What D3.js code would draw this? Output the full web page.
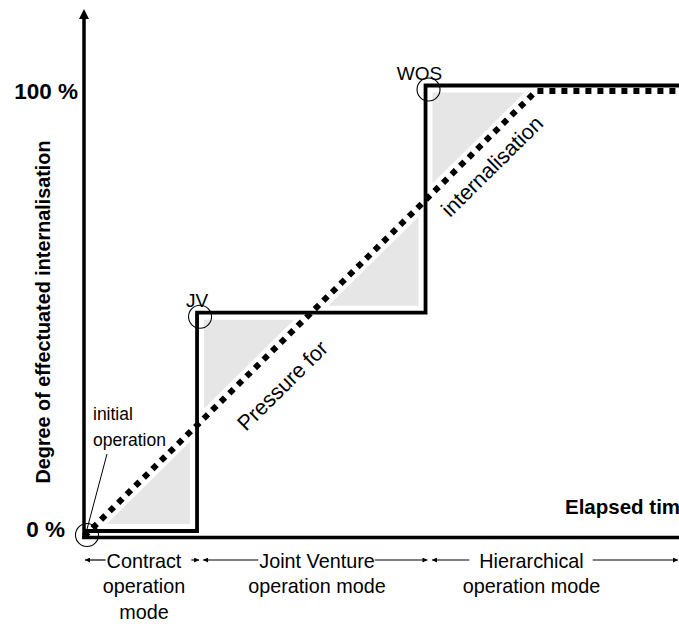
<!DOCTYPE html>
<html>
<head>
<meta charset="utf-8">
<script src="https://cdn.jsdelivr.net/npm/d3@7"></script>
<style>
  html, body { margin: 0; padding: 0; background: #fff; }
  svg { display: block; }
  text { font-family: "Liberation Sans", Arial, Helvetica, sans-serif; fill: #000; }
</style>
</head>
<body>
<svg id="chart" width="679" height="626"></svg>
<script>
// ---------------- data ----------------
const modes = ["Contract", "Joint Venture", "Hierarchical"];
const modeSub = [["operation", "mode"], ["operation mode"], ["operation mode"]];
const modeStart = [0, 1.9, 5.74];   // elapsed time where each mode starts
const modeEnd = [1.9, 5.74, 10];
const stepTime = [0, 1.9, 1.9, 5.74, 5.74, 10];      // effectuated internalisation (step)
const stepValue = [0, 0, 49, 49, 100, 100];
const pressureTime = [0, 7.6, 10];                    // pressure for internalisation
const pressureValue = [0, 100, 100];
const milestoneNames = ["", "JV", "WOS"];
const milestoneTime = [0, 1.9, 5.74];
const milestoneValue = [0, 49, 100];
const yTickValues = [0, 100];
const yTickLabels = ["0 %", "100 %"];

// ---------------- layout ----------------
const svg = d3.select("#chart");
const x = d3.scaleLinear().domain([0, 10]).range([84, 679]);
const y = d3.scaleLinear().domain([0, 100]).range([531, 85.5]);
const axisY = 537.5;
const pOff = 5.5; // pressure line drawn just below the step level

// shaded triangles between step and pressure line
function lineInter(p1, d1, p2, d2) {
  const den = d1[0] * d2[1] - d1[1] * d2[0];
  const t = ((p2[0] - p1[0]) * d2[1] - (p2[1] - p1[1]) * d2[0]) / den;
  return [p1[0] + t * d1[0], p1[1] + t * d1[1]];
}
const dP = [x(pressureTime[1]) - x(pressureTime[0]), y(pressureValue[1]) - y(pressureValue[0])];
const pP = [x(pressureTime[0]), y(pressureValue[0]) + pOff];
const H = v => [[0, y(v)], [1, 0]];
const V = t => [[x(t), 0], [0, 1]];
const D = [pP, dP];
function tri(a, b) {
  const v1 = lineInter(a[0], a[1], b[0], b[1]);
  const v2 = lineInter(a[0], a[1], D[0], D[1]);
  const v3 = lineInter(b[0], b[1], D[0], D[1]);
  return inset([v1, v2, v3], 7);
}
function inset(pts, d) {
  const [A, B, C] = pts;
  const dist = (p, q) => Math.hypot(p[0] - q[0], p[1] - q[1]);
  const a = dist(B, C), b = dist(A, C), c = dist(A, B);
  const s = a + b + c;
  const I = [(a * A[0] + b * B[0] + c * C[0]) / s, (a * A[1] + b * B[1] + c * C[1]) / s];
  const area = Math.abs((B[0] - A[0]) * (C[1] - A[1]) - (C[0] - A[0]) * (B[1] - A[1])) / 2;
  const r = 2 * area / s;
  const k = (r - d) / r;
  return pts.map(p => [I[0] + (p[0] - I[0]) * k, I[1] + (p[1] - I[1]) * k]);
}
const tris = [
  tri(H(stepValue[0]), V(stepTime[1])),
  tri(V(stepTime[2]), H(stepValue[2])),
  tri(H(stepValue[3]), V(stepTime[4])),
  tri(V(stepTime[4]), H(stepValue[4]))
];
svg.append("g").selectAll("path").data(tris).join("path")
  .attr("d", d => "M" + d.map(p => p.join(",")).join("L") + "Z")
  .attr("fill", "#e6e6e6");

// arrow marker
svg.append("defs").append("marker")
  .attr("id", "ah").attr("viewBox", "0 0 10 10").attr("refX", 10).attr("refY", 5)
  .attr("markerWidth", 6).attr("markerHeight", 5).attr("orient", "auto-start-reverse")
  .attr("markerUnits", "userSpaceOnUse")
  .append("path").attr("d", "M0,0L10,5L0,10Z").attr("fill", "#000");

// y axis with arrow
svg.append("line").attr("x1", x(0)).attr("x2", x(0)).attr("y1", axisY + 1.5).attr("y2", 18)
  .attr("stroke", "#000").attr("stroke-width", 3.5);
svg.append("path").attr("d", `M${x(0) - 5},19L${x(0)},9L${x(0) + 5},19Z`).attr("fill", "#000");
// x axis
svg.append("line").attr("x1", x(0) - 1.75).attr("x2", 679).attr("y1", axisY).attr("y2", axisY)
  .attr("stroke", "#000").attr("stroke-width", 3.5);

// tick labels
svg.append("g").selectAll("text").data(yTickValues).join("text")
  .attr("x", (d, i) => i === 0 ? 65 : 78)
  .attr("y", (d, i) => i === 0 ? y(d) + 5.5 : y(d) + 13)
  .attr("text-anchor", "end")
  .attr("font-weight", "bold").attr("font-size", 22.5)
  .text((d, i) => yTickLabels[i]);

// axis titles
svg.append("text").attr("transform", "translate(50,312) rotate(-90)")
  .attr("text-anchor", "middle").attr("font-weight", "bold").attr("font-size", 19.8)
  .text("Degree of effectuated internalisation");
svg.append("text").attr("x", 565).attr("y", 514)
  .attr("font-weight", "bold").attr("font-size", 20.5)
  .text("Elapsed time");

// pressure dotted line
const pLine = d3.line().x((d, i) => x(pressureTime[i])).y((d, i) => y(d) + pOff);
svg.append("path").attr("d", pLine(pressureValue))
  .attr("fill", "none").attr("stroke", "#000").attr("stroke-width", 6)
  .attr("stroke-dasharray", "6,6");

// step line
const sLine = d3.line().x((d, i) => x(stepTime[i])).y(d => y(d));
svg.append("path").attr("d", sLine(stepValue))
  .attr("fill", "none").attr("stroke", "#000").attr("stroke-width", 3.8)
  .attr("stroke-linejoin", "miter");

// milestone circles
svg.append("g").selectAll("circle").data(milestoneTime).join("circle")
  .attr("cx", d => x(d) + 3)
  .attr("cy", (d, i) => y(milestoneValue[i]) + 4)
  .attr("r", 11.5).attr("fill", "none").attr("stroke", "#000").attr("stroke-width", 1.1);
svg.append("g").selectAll("text").data(milestoneNames).join("text")
  .attr("x", (d, i) => x(milestoneTime[i]) - (i === 2 ? 6 : 0))
  .attr("y", (d, i) => y(milestoneValue[i]) - 6)
  .attr("text-anchor", "middle").attr("font-size", 19)
  .text(d => d);

// initial operation annotation
const ann = svg.append("text").attr("font-size", 17.5);
ann.append("tspan").attr("x", 93).attr("y", 420).text("initial");
ann.append("tspan").attr("x", 93).attr("y", 446).text("operation");
svg.append("line").attr("x1", 107).attr("y1", 454).attr("x2", 86).attr("y2", 533)
  .attr("stroke", "#000").attr("stroke-width", 1);

// rotated pressure labels
const ang = Math.atan2(dP[1], dP[0]) * 180 / Math.PI;
svg.append("text").attr("transform", `translate(246,432) rotate(${ang})`)
  .attr("font-size", 21.5).text("Pressure for");
svg.append("text").attr("transform", `translate(450,218) rotate(${ang})`)
  .attr("font-size", 21.5).text("internalisation");

// mode labels with arrows
const lay = [
  { cx: 144, l0: 1, gapL: 1, gapR: 10 },
  { cx: 317, l0: 6, gapL: 1, gapR: 0 },
  { cx: 531.5, l0: 6.5, gapL: 10, gapR: 9 }
];
const rowY = 567.5, arrowY = 560;
modes.forEach((m, i) => {
  const L = lay[i];
  const t = svg.append("text").attr("x", L.cx).attr("y", rowY)
    .attr("text-anchor", "middle").attr("font-size", 19.8).text(m);
  const w = t.node().getComputedTextLength();
  const left = x(modeStart[i]) + L.l0;
  const right = Math.min(x(modeEnd[i]) + 2, 678);
  svg.append("line").attr("x1", left).attr("x2", L.cx - w / 2 - L.gapL)
    .attr("y1", arrowY).attr("y2", arrowY).attr("stroke", "#000").attr("stroke-width", 1.2)
    .attr("marker-start", "url(#ah)");
  svg.append("line").attr("x1", L.cx + w / 2 + L.gapR).attr("x2", right)
    .attr("y1", arrowY).attr("y2", arrowY).attr("stroke", "#000").attr("stroke-width", 1.2)
    .attr("marker-end", "url(#ah)");
  modeSub[i].forEach((s, j) => {
    svg.append("text").attr("x", L.cx).attr("y", rowY + 25.5 * (j + 1))
      .attr("text-anchor", "middle").attr("font-size", 19.8).text(s);
  });
});
</script>
</body>
</html>
